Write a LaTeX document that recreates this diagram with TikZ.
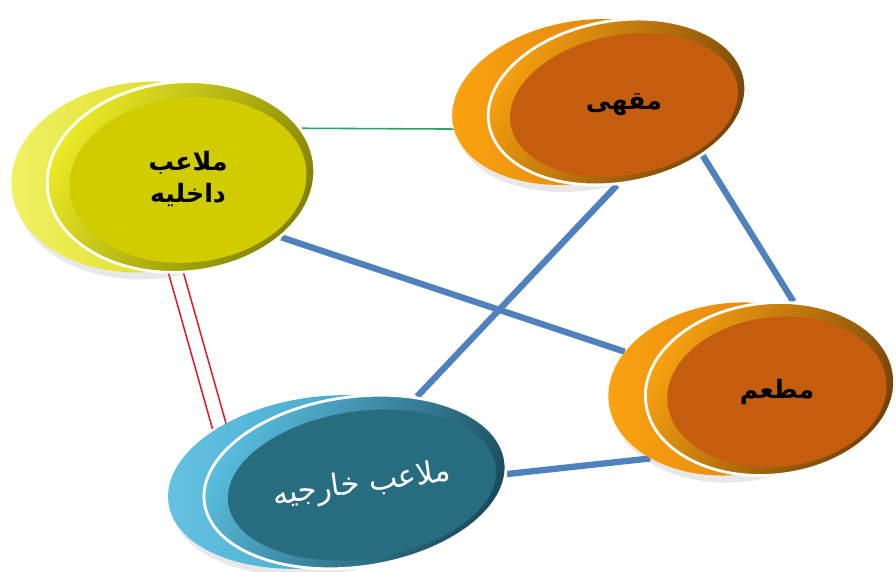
\documentclass[tikz,border=0pt]{standalone}
\usepackage{fontspec}
\newfontfamily\arabicfont[Script=Arabic]{DejaVu Sans}
\TeXXeTstate=1
\usetikzlibrary{shapes.geometric,backgrounds,shadows}

\definecolor{discYellow}{RGB}{232,232,0}
\definecolor{faceYellow}{RGB}{208,204,0}
\definecolor{discOrange}{RGB}{250,140,20}
\definecolor{faceOrange}{RGB}{196,94,14}
\definecolor{discTeal}{RGB}{62,180,220}
\definecolor{faceTeal}{RGB}{40,108,128}
\definecolor{linkBlue}{RGB}{79,129,189}
\definecolor{linkGreen}{RGB}{40,165,100}
\definecolor{linkRed}{RGB}{228,20,32}

\tikzset{
  disc/.style={ellipse, inner sep=0pt},
  back/.style={disc, drop shadow={opacity=0.18, shadow xshift=2pt, shadow yshift=-4pt}},
  rim/.style={disc, draw=white, line width=1.6pt},
  face/.style={disc, font=\arabicfont\bfseries\Large, align=center},
  link/.style={linkBlue, line width=3.6pt},
}

\begin{document}
\begin{tikzpicture}
\useasboundingbox (0,0) rectangle (17.92,11.44);

% indoor courts
\node[back, rotate=5, minimum width=5.36cm, minimum height=3.8cm,
  left color=discYellow!60!white, right color=discYellow!90!black] (indoorBack) at (2.90,7.90) {};
\node[rim, rotate=5, minimum width=5.36cm, minimum height=3.8cm,
  left color=discYellow!85!white, right color=discYellow!55!black, shading angle=60] (indoorRim) at (3.62,7.90) {};
\node[face, rotate=5, minimum width=4.75cm, minimum height=3.3cm, fill=faceYellow] (indoor) at (3.76,7.84)
  {\rotatebox{-5}{\begin{tabular}{c}\beginR ملاعب\endR\\\beginR داخليه\endR\end{tabular}}};

% cafe
\node[back, rotate=10, minimum width=5.2cm, minimum height=3.24cm,
  left color=discOrange!80!yellow, right color=discOrange!85!black] (cafeBack) at (11.62,9.40) {};
\node[rim, rotate=10, minimum width=5.2cm, minimum height=3.24cm,
  left color=discOrange!80!yellow, right color=discOrange!45!black, shading angle=60] (cafeRim) at (12.34,9.40) {};
\node[face, rotate=10, minimum width=4.6cm, minimum height=2.8cm, fill=faceOrange] (cafe) at (12.48,9.34)
  {\rotatebox{-10}{\beginR مقهى\endR}};

% restaurant
\node[back, rotate=6, minimum width=5.0cm, minimum height=3.44cm,
  left color=discOrange!80!yellow, right color=discOrange!85!black] (restoBack) at (14.66,3.66) {};
\node[rim, rotate=6, minimum width=5.0cm, minimum height=3.44cm,
  left color=discOrange!80!yellow, right color=discOrange!45!black, shading angle=60] (restoRim) at (15.40,3.66) {};
\node[face, rotate=6, minimum width=4.4cm, minimum height=3.0cm, fill=faceOrange] (resto) at (15.54,3.60)
  {\rotatebox{-6}{\beginR مطعم\endR}};

% outdoor courts
\node[back, rotate=8, minimum width=6.08cm, minimum height=3.4cm,
  left color=discTeal!80!white, right color=discTeal!85!black] (outdoorBack) at (6.38,1.80) {};
\node[rim, rotate=8, minimum width=6.08cm, minimum height=3.4cm,
  left color=discTeal!85!white, right color=discTeal!40!black, shading angle=60] (outdoorRim) at (7.10,1.80) {};
\node[face, rotate=8, minimum width=5.4cm, minimum height=2.95cm, fill=faceTeal,
  font=\arabicfont\LARGE, text=white] (outdoor) at (7.24,1.74)
  {\beginR ملاعب خارجيه\endR};

\begin{scope}[on background layer]
\draw[linkGreen, line width=0.9pt] (indoorRim.17) -- (cafeBack.182);
\draw[link] (indoorRim.-36) -- (restoBack.155);
\draw[link] (cafeRim.-100) -- (outdoorRim.46);
\draw[link] (cafeRim.-42) -- (restoRim.69);
\draw[link] (outdoorRim.-5) -- (restoBack.-146);
\draw[linkRed, line width=0.9pt, double=white, double distance=7.3pt] (indoorBack.-77) -- (outdoorBack.143);
\end{scope}
\end{tikzpicture}
\end{document}
